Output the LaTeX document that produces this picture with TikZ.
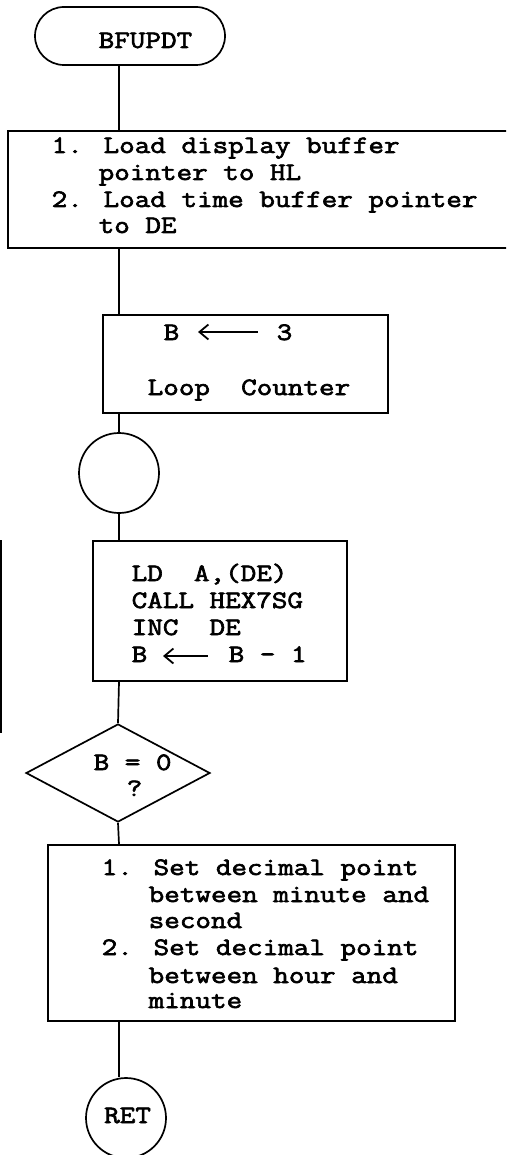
\documentclass[tikz,border=0pt]{standalone}
\usepackage{fontspec}
\newfontfamily\twfont{Latin Modern Mono}[FakeStretch=1.21,FakeBold=2.6]
\usetikzlibrary{shapes.geometric,arrows.meta}
\tikzset{
  ln/.style={line width=1.7pt},
  boxnode/.style={draw, ln, rectangle, inner sep=0pt},
  tx/.style={anchor=base west, inner sep=0pt, font=\twfont\fontsize{25}{27}\selectfont},
  larrow/.style={line width=1.8pt, {Straight Barb[length=9pt,width=15pt]}-}
}
\begin{document}
\begin{tikzpicture}[x=1pt,y=-1pt]
\useasboundingbox (0,0) rectangle (506,1155);
\clip (0,0) rectangle (506,1155);
\coordinate (spine) at (119,0);
% terminal
\node[draw, ln, rectangle, rounded corners=29pt, minimum width=190pt, minimum height=58pt, inner sep=0pt] (term) at (130,36) {};
\node[tx] (termt) at (98.5,48) {BFUPDT};
% box 1
\node[boxnode, minimum width=512pt, minimum height=117pt] (box1) at (264,189.5) {};
\node[tx] (b1a) at (51.5,153) {1. Load display buffer};
\node[tx] (b1b) at (98.5,180) {pointer to HL};
\node[tx] (b1c) at (51.5,207) {2. Load time buffer pointer};
\node[tx] (b1d) at (98.5,233) {to DE};
% box 2
\node[boxnode, minimum width=285pt, minimum height=98pt] (box2) at (245.5,364) {};
\node[tx] (b2b) at (163.5,340) {B};
\node[tx] (b2n) at (276.5,340) {3};
\node[tx] (b2c) at (147.5,395) {Loop~~Counter};
\coordinate (a2s) at (198,332);
\coordinate (a2e) at (258,332);
\draw[larrow] (a2s) -- (a2e);
% connector circle
\node[draw, ln, circle, minimum size=80pt, inner sep=0pt] (conn) at (119,473) {};
% box 3
\node[boxnode, minimum width=254pt, minimum height=140pt] (box3) at (220,611) {};
\node[tx] (b3a) at (131.5,581) {LD~~A,(DE)};
\node[tx] (b3b) at (131.5,608) {CALL HEX7SG};
\node[tx] (b3c) at (131.5,635) {INC~~DE};
\node[tx] (b3d) at (131.5,662) {B};
\node[tx] (b3e) at (228.5,662) {B - 1};
\coordinate (a3s) at (163,656);
\coordinate (a3e) at (208,656);
\draw[larrow] (a3s) -- (a3e);
% stray loop line at left edge
\coordinate (lpt) at (1,540);
\coordinate (lpb) at (1,733);
\draw[line width=1.4pt] (lpt) -- (lpb);
% decision
\node[draw, ln, diamond, minimum width=184pt, minimum height=98pt, inner sep=0pt] (dec) at (118,773) {};
\node[tx] (dect) at (93.5,770) {B = 0};
\node[tx] (decq) at (126.5,796) {?};
% box 4
\node[boxnode, minimum width=407pt, minimum height=176pt] (box4) at (251.5,933) {};
\node[tx] (b4a) at (101.5,875) {1. Set decimal point};
\node[tx] (b4b) at (148.5,902) {between minute and};
\node[tx] (b4c) at (148.5,928) {second};
\node[tx] (b4d) at (101.5,955) {2. Set decimal point};
\node[tx] (b4e) at (148.5,983) {between hour and};
\node[tx] (b4f) at (148.5,1008) {minute};
% RET
\node[draw, ln, circle, minimum size=80pt, inner sep=0pt] (ret) at (126,1118) {};
\node[tx] (rett) at (104,1123) {RET};
% connectors
\draw[ln] (term.south -| spine) -- (box1.north -| spine);
\draw[ln] (box1.south -| spine) -- (box2.north -| spine);
\draw[ln] (box2.south -| spine) -- (conn.north);
\draw[ln] (conn.south) -- (box3.north -| spine);
\draw[ln] (box3.south -| spine) -- (dec.north);
\draw[ln] (dec.south) -- (box4.north -| spine);
\draw[ln] (box4.south -| spine) -- (ret.north -| spine);
\end{tikzpicture}
\end{document}
